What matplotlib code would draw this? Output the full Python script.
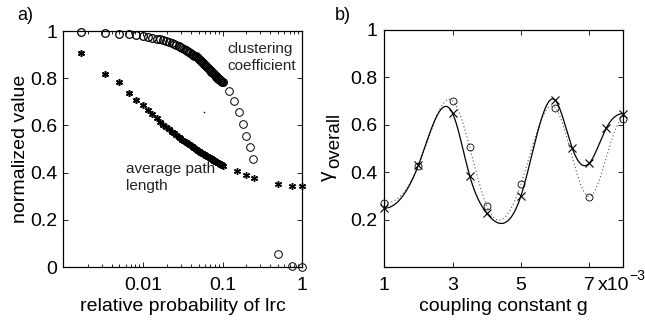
import numpy as np
import matplotlib
matplotlib.use("Agg")
import matplotlib.pyplot as plt
from matplotlib.ticker import FixedLocator, NullFormatter, LogLocator

plt.rcParams['font.family'] = ['Liberation Sans', 'DejaVu Sans']

# ---------------- panel a data ----------------
p_dense = [0.00164, 0.00328, 0.00492, 0.00656, 0.0082, 0.00984, 0.01148, 0.01312, 0.01476, 0.0164,
           0.01804, 0.01968, 0.02132, 0.02296, 0.0246, 0.02624, 0.02788, 0.02952, 0.03116, 0.0328,
           0.03444, 0.03608, 0.03772, 0.03936, 0.041, 0.04264, 0.04428, 0.04592, 0.04756, 0.0492,
           0.05084, 0.05248, 0.05412, 0.05576, 0.0574, 0.05904, 0.06068, 0.06232, 0.06396, 0.0656,
           0.06724, 0.06888, 0.07052, 0.07216, 0.0738, 0.07544, 0.07708, 0.07872, 0.08036, 0.082,
           0.08364, 0.08528, 0.08692, 0.08856, 0.0902, 0.09184, 0.09348, 0.09512, 0.09676, 0.0984,
           0.10004]
clust_dense = [0.997, 0.993, 0.989, 0.986, 0.982, 0.979, 0.975, 0.972, 0.968, 0.964,
               0.960, 0.956, 0.952, 0.948, 0.944, 0.940, 0.936, 0.932, 0.928, 0.924,
               0.920, 0.916, 0.912, 0.908, 0.904, 0.900, 0.896, 0.892, 0.888, 0.884,
               0.880, 0.876, 0.872, 0.868, 0.864, 0.860, 0.856, 0.852, 0.848, 0.844,
               0.840, 0.836, 0.832, 0.828, 0.825, 0.822, 0.819, 0.816, 0.813, 0.810,
               0.807, 0.804, 0.801, 0.798, 0.796, 0.794, 0.792, 0.790, 0.788, 0.786,
               0.785]
path_dense = [0.905, 0.818, 0.785, 0.736, 0.708, 0.685, 0.665, 0.647, 0.630, 0.616,
              0.602, 0.592, 0.583, 0.574, 0.566, 0.558, 0.551, 0.545, 0.539, 0.534,
              0.529, 0.524, 0.520, 0.516, 0.512, 0.508, 0.504, 0.500, 0.497, 0.4935,
              0.4905, 0.4876, 0.485, 0.482, 0.4795, 0.477, 0.4745, 0.472, 0.4696, 0.467,
              0.465, 0.463, 0.461, 0.4587, 0.4566, 0.4545, 0.4526, 0.4508, 0.449, 0.447,
              0.4456, 0.4438, 0.4422, 0.4406, 0.439, 0.4374, 0.4358, 0.4344, 0.4328, 0.4314,
              0.430]
p_clust_sparse = [0.12, 0.14, 0.16, 0.18, 0.20, 0.22, 0.24, 0.5, 0.75, 1.0]
clust_sparse = [0.745, 0.702, 0.655, 0.608, 0.556, 0.507, 0.459, 0.055, 0.004, 0.0]
p_path_sparse = [0.15, 0.2, 0.25, 0.5, 0.75, 1.0]
path_sparse = [0.408, 0.389, 0.377, 0.350, 0.342, 0.342]
stray_p = [0.059]
stray_v = [0.657]

# ---------------- panel b data ----------------
g_x = [1, 2, 3, 3.5, 4, 5, 6, 6.5, 7, 7.5, 8]
gamma_x = [0.249, 0.431, 0.649, 0.386, 0.228, 0.300, 0.705, 0.504, 0.438, 0.586, 0.648]
g_o = [1, 2, 3, 3.5, 4, 5, 6, 7, 8]
gamma_o = [0.270, 0.428, 0.702, 0.507, 0.258, 0.350, 0.673, 0.298, 0.625]


def spline_clamped(x, y, xs, s0=0.0, s1=0.0):
    x = np.asarray(x, float); y = np.asarray(y, float)
    n = len(x); h = np.diff(x)
    A = np.zeros((n, n)); b = np.zeros(n)
    A[0, 0] = 2 * h[0]; A[0, 1] = h[0]
    b[0] = 6 * ((y[1] - y[0]) / h[0] - s0)
    A[-1, -2] = h[-1]; A[-1, -1] = 2 * h[-1]
    b[-1] = 6 * (s1 - (y[-1] - y[-2]) / h[-1])
    for i in range(1, n - 1):
        A[i, i - 1] = h[i - 1]; A[i, i] = 2 * (h[i - 1] + h[i]); A[i, i + 1] = h[i]
        b[i] = 6 * ((y[i + 1] - y[i]) / h[i] - (y[i] - y[i - 1]) / h[i - 1])
    M = np.linalg.solve(A, b)
    idx = np.clip(np.searchsorted(x, xs) - 1, 0, n - 2)
    x0, x1 = x[idx], x[idx + 1]; hh = x1 - x0
    return (M[idx] * (x1 - xs) ** 3 / (6 * hh) + M[idx + 1] * (xs - x0) ** 3 / (6 * hh)
            + (y[idx] / hh - M[idx] * hh / 6) * (x1 - xs)
            + (y[idx + 1] / hh - M[idx + 1] * hh / 6) * (xs - x0))


fig = plt.figure(figsize=(6.45, 3.2), dpi=100)
W, H = 645.0, 320.0

TICK = 14
LAB = 14

# ---------------- panel a ----------------
ax1 = fig.add_axes([63 / W, 1 - 267 / H, (302 - 63) / W, (267 - 31) / H])
ax1.set_xscale('log')
ax1.plot(p_dense, clust_dense, 'o', mfc='none', mec='black', ms=5.5, mew=0.9, clip_on=False)
ax1.plot(p_clust_sparse, clust_sparse, 'o', mfc='none', mec='black', ms=5.5, mew=0.7, clip_on=False)
ax1.plot(p_dense, path_dense, ls='none', marker=(6, 2, 0), color='black', ms=5, mew=1.1, clip_on=False)
ax1.plot(p_path_sparse, path_sparse, ls='none', marker=(6, 2, 0), color='black', ms=5, mew=1.0, clip_on=False)
ax1.plot(stray_p, stray_v, ls='none', marker='s', color='black', ms=1.0, mew=0)
ax1.set_xlim(0.00098, 1)
ax1.set_ylim(0, 1)
ax1.xaxis.set_major_locator(FixedLocator([0.01, 0.1, 1]))
ax1.set_xticklabels(['0.01', '0.1', '1'])
ax1.xaxis.set_minor_locator(LogLocator(base=10, subs=np.arange(2, 10)))
ax1.xaxis.set_minor_formatter(NullFormatter())
ax1.set_yticks([0, 0.2, 0.4, 0.6, 0.8, 1])
ax1.set_yticklabels(['0', '0.2', '0.4', '0.6', '0.8', '1'])
ax1.tick_params(which='both', direction='in', top=True, right=True, labelsize=TICK, width=0.6)
ax1.tick_params(which='major', length=3.5)
ax1.tick_params(which='minor', length=2)
ax1.tick_params(axis='y', pad=4)
ax1.tick_params(axis='x', pad=7)
ax1.set_xlabel('relative probability of lrc', fontsize=LAB, labelpad=3)
ax1.set_ylabel('normalized value', fontsize=LAB, labelpad=1)
for s in ax1.spines.values():
    s.set_linewidth(0.9)
ax1.text(0.114, 0.925, 'clustering', fontsize=11, color='#222222', ha='left', va='center')
ax1.text(0.114, 0.852, 'coefficient', fontsize=11, color='#222222', ha='left', va='center')
ax1.text(0.0061, 0.415, 'average path', fontsize=11, color='#222222', ha='left', va='center')
ax1.text(0.0061, 0.345, 'length', fontsize=11, color='#222222', ha='left', va='center')
fig.text(25 / W, 1 - 15 / H, 'a)', fontsize=13, ha='center', va='center')

# ---------------- panel b ----------------
ax2 = fig.add_axes([384.3 / W, 1 - 267.3 / H, (623.3 - 384.3) / W, (267.3 - 30) / H])
xs = np.linspace(1, 8, 400)
ax2.plot(xs, spline_clamped(g_o, gamma_o, xs), ls=(0, (1, 2.2)), color='#555555', lw=0.8)
ax2.plot(xs, spline_clamped(g_x, gamma_x, xs), '-', color='black', lw=0.9)
ax2.plot(g_o, gamma_o, 'o', mfc='none', mec='black', ms=5, mew=0.6, clip_on=False)
ax2.plot(g_x, gamma_x, 'x', color='black', ms=5.5, mew=0.8, clip_on=False)
ax2.set_xlim(1, 8)
ax2.set_ylim(0, 1)
ax2.set_xticks([1, 3, 5, 7])
ax2.set_xticklabels(['1', '3', '5', '7'])
ax2.set_yticks([0.2, 0.4, 0.6, 0.8, 1])
ax2.set_yticklabels(['0.2', '0.4', '0.6', '0.8', '1'])
ax2.tick_params(direction='in', top=True, right=True, labelsize=TICK, width=0.6, length=3.5)
ax2.tick_params(axis='y', pad=5)
ax2.tick_params(axis='x', pad=7)
ax2.set_xlabel('coupling constant g', fontsize=LAB, labelpad=3)
for s in ax2.spines.values():
    s.set_linewidth(0.9)
# y label: gamma with large "overall" subscript
fig.text(327 / W, 1 - 176 / H, '\u03b3', fontsize=15, rotation=90, ha='center', va='center')
fig.text(335 / W, 1 - 140 / H, 'overall', fontsize=13.5, rotation=90, ha='center', va='center')
fig.text(598 / W, 1 - 286 / H, 'x10', fontsize=TICK, ha='left', va='center')
fig.text(629 / W, 1 - 276 / H, '\u22123', fontsize=10, ha='left', va='center')
fig.text(343 / W, 1 - 15 / H, 'b)', fontsize=13, ha='center', va='center')

fig.savefig('out.png', dpi=100)
